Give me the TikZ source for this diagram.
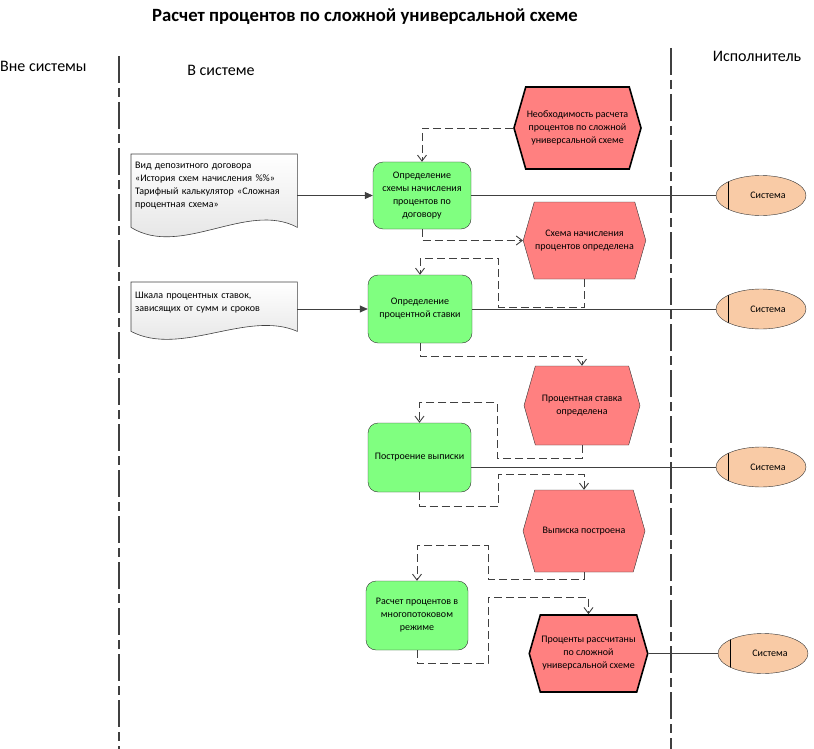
\documentclass[tikz,border=0pt]{standalone}
\usepackage{fontspec}
\setmainfont{Carlito}
\usepackage{tikz}
\usetikzlibrary{positioning, arrows.meta, calc, backgrounds, shapes.geometric, shapes.symbols}

\definecolor{procgreen}{RGB}{128,255,128}
\definecolor{eventred}{RGB}{255,128,128}
\definecolor{syspeach}{RGB}{249,203,166}
\definecolor{linegray}{RGB}{64,64,64}

\begin{document}
\begin{tikzpicture}[x=1pt, y=-1pt,
    every node/.style={font=\fontsize{10}{13}\selectfont},
    lanehead/.style={font=\fontsize{16}{19}\selectfont},
    procbox/.style={draw=black!80, fill=procgreen, rounded corners=10pt, align=center, inner sep=2pt},
    eventhex/.style={signal, signal to=east and west, signal pointer angle=148, draw=black!80, fill=eventred, align=center, inner sep=1pt},
    startend/.style={eventhex, line width=1.6pt, draw=black},
    docbox/.style={anchor=north west, align=left, inner sep=4pt, text width=158pt, minimum width=166pt},
    docline/.style={top color=white, bottom color=black!12, draw=linegray, line width=0.6pt},
    sysell/.style={ellipse, draw=black!80, fill=syspeach, minimum width=90pt, minimum height=40pt, inner sep=0pt,
        path picture={\draw[black] ([xshift=12pt]path picture bounding box.north west) -- ([xshift=12pt]path picture bounding box.south west);}},
    flow/.style={draw=linegray, line width=0.9pt, dash pattern=on 8pt off 4pt, -{Straight Barb[length=6pt,width=9pt]}},
    link/.style={draw=linegray, line width=0.7pt},
    lane/.style={draw=linegray, line width=1.1pt, dash pattern=on 27pt off 5pt on 9pt off 5pt}]
    \useasboundingbox (0,0) rectangle (814,749);

    % Title and lanes
    \node[font=\fontsize{18.7}{22}\selectfont\bfseries] (title) at (365,17) {Расчет процентов по сложной универсальной схеме};
    \node[lanehead, anchor=west, inner sep=0pt] (outside) at (0,66) {Вне системы};
    \node[lanehead] (inside) at (221,70) {В системе};
    \node[lanehead] (doer) at (757,56) {Исполнитель};
    \coordinate (laneA top) at (119,56);  \coordinate (laneA bot) at (119,749);
    \coordinate (laneB top) at (671,48);  \coordinate (laneB bot) at (671,749);
    \draw[lane] (laneA top) -- (laneA bot);
    \draw[lane] (laneB top) -- (laneB bot);

    % Documents
    \node[docbox, minimum height=63pt] (doc1) at (131,154) {Вид депозитного договора\\«История схем начисления \%\%»\\Тарифный калькулятор «Сложная\\процентная схема»};
    \node[docbox, minimum height=40pt] (doc2) at (131,282) {Шкала процентных ставок,\\зависящих от сумм и сроков};

    % Functions - green
    \node[procbox, minimum width=98pt, minimum height=67pt] (func1) at (422,195.5) {Определение\\схемы начисления\\процентов по\\договору};
    \node[procbox, minimum width=104pt, minimum height=68pt] (func2) at (420,309) {Определение\\процентной ставки};
    \node[procbox, minimum width=103pt, minimum height=69pt] (func3) at (419.5,457.5) {Построение выписки};
    \node[procbox, minimum width=102pt, minimum height=69pt] (func4) at (417,615.5) {Расчет процентов в\\многопотоковом\\режиме};

    % Events - red
    \node[startend, minimum width=121pt, minimum height=82pt] (ev1) at (577.5,128) {Необходимость расчета\\процентов по сложной\\универсальной схеме};
    \node[eventhex, minimum width=113pt, minimum height=77pt] (ev2) at (584.5,240.5) {Схема начисления\\процентов определена};
    \node[eventhex, minimum width=116pt, minimum height=79pt] (ev3) at (582,405.5) {Процентная ставка\\определена};
    \node[eventhex, minimum width=122pt, minimum height=82pt] (ev4) at (584,531) {Выписка построена};
    \node[startend, minimum width=115pt, minimum height=77pt] (ev5) at (588.5,653.5) {Проценты рассчитаны\\по сложной\\универсальной схеме};

    % Performers
    \node[sysell] (sys1) at (761,195.5) {\hspace*{14pt}Система};
    \node[sysell] (sys2) at (761,309) {\hspace*{14pt}Система};
    \node[sysell] (sys3) at (761,467) {\hspace*{14pt}Система};
    \node[sysell] (sys4) at (763,653.5) {\hspace*{14pt}Система};

    % Document outlines with wavy bottom
    \begin{scope}[on background layer]
        \path[docline] ([yshift=-10pt]doc1.south west) -- (doc1.north west) -- (doc1.north east) -- ([yshift=-10pt]doc1.south east)
            .. controls +(-50,-27) and +(50,31) .. ([yshift=-10pt]doc1.south west) -- cycle;
        \path[docline] ([yshift=-9pt]doc2.south west) -- (doc2.north west) -- (doc2.north east) -- ([yshift=-9pt]doc2.south east)
            .. controls +(-50,-22) and +(50,26) .. ([yshift=-9pt]doc2.south west) -- cycle;
    \end{scope}

    % Inputs
    \draw[link, -{Triangle[length=8pt,width=7pt]}] (doc1.east |- func1) -- (func1.west);
    \draw[link, -{Triangle[length=8pt,width=7pt]}] (doc2.east |- func2) -- (func2.west);

    % Performer links
    \draw[link] (func1.east) -- (sys1.west);
    \draw[link] (func2.east) -- (sys2.west);
    \draw[link] (func3.east |- sys3) -- (sys3.west);
    \draw[link] (ev5.east) -- (sys4.west);

    % Control flow
    \draw[flow] (ev1.west) -| (func1.north);
    \draw[flow] (func1.south) |- (ev2.west);
    \draw[flow] (ev2.south) -- ++(0,28) -- ++(-86,0) |- ([yshift=16pt]func2.north) -- (func2.north);
    \draw[flow] (func2.south) -- ++(0,13) -| (ev3.north);
    \draw[flow] (ev3.south) -- ++(0,13) -- ++(-85,0) |- ([yshift=20pt]func3.north) -- (func3.north);
    \draw[flow] (func3.south) -- ++(0,14) -- ++(79,0) |- ([yshift=15pt]ev4.north) -- (ev4.north);
    \draw[flow] (ev4.south) -- ++(0,7) -- ++(-96,0) |- ([yshift=35pt]func4.north) -- (func4.north);
    \draw[flow] (func4.south) -- ++(0,13) -- ++(71,0) |- ([yshift=17pt]ev5.north) -- (ev5.north);
\end{tikzpicture}
\end{document}
